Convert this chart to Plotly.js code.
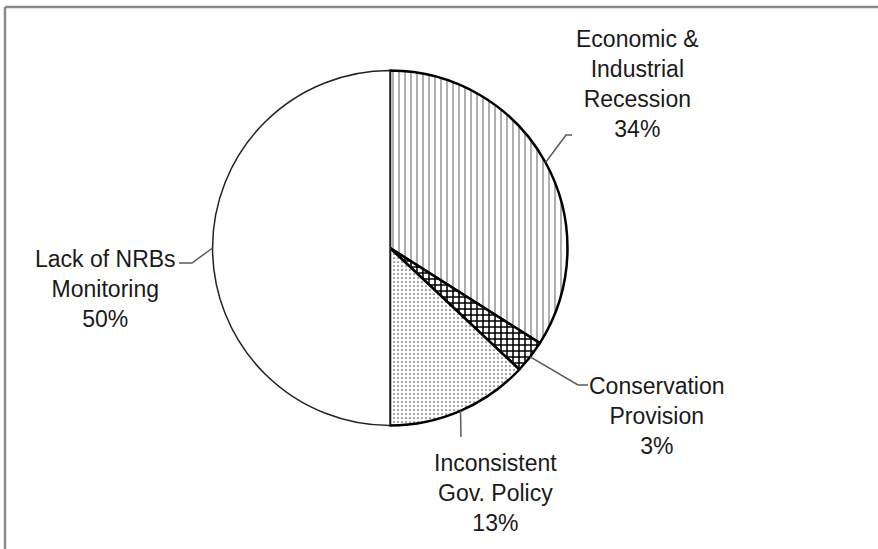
<!DOCTYPE html>
<html>
<head>
<meta charset="utf-8">
<script src="https://cdn.plot.ly/plotly-3.0.1.min.js"></script>
<style>
  html, body { margin: 0; padding: 0; background: #fff; }
  #chart { width: 878px; height: 549px; }
</style>
</head>
<body>
<div id="chart"></div>
<script>
// ---- data ----
const categories = ["Economic &<br>Industrial<br>Recession", "Conservation<br>Provision", "Inconsistent<br>Gov. Policy", "Lack of NRBs<br>Monitoring"];
const values = [34, 3, 13, 50];
const pctLabels = ["34%", "3%", "13%", "50%"];

// ---- layout constants (pixels) ----
const W = 878, H = 549;
const CX = 390, CY = 248, R = 177.5;
const px = x => x / W;
const py = y => 1 - y / H;

// label text centres and leader elbow points (pixels)
const labelPos = [
  {x: 637, y: 84, elbow: [[572, 135], [566, 135]]},
  {x: 657, y: 416, elbow: [[588, 385], [578, 385]]},
  {x: 495, y: 493, elbow: [[461, 437]]},
  {x: 105, y: 289, elbow: [[179, 263], [192, 263]]}
];

const trace = {
  type: "pie",
  values: values,
  labels: categories,
  sort: false,
  direction: "clockwise",
  rotation: 0,
  textinfo: "none",
  hoverinfo: "label+percent",
  showlegend: false,
  domain: {x: [px(CX - R), px(CX + R)], y: [py(CY + R), py(CY - R)]},
  marker: {
    colors: ["#ffffff", "#ffffff", "#ffffff", "#ffffff"],
    line: {color: ["#000000", "#000000", "#000000", "#222222"], width: [2.5, 2.5, 2.5, 1.5]},
    pattern: {
      shape: ["|", "+", ".", ""],
      fgcolor: ["#7a7a7a", "#000000", "#555555", "#000000"],
      bgcolor: "#ffffff",
      size: [6, 6, 4, 8],
      solidity: [0.2, 0.45, 0.15, 0.1],
      fillmode: "replace"
    }
  }
};

// leader lines: from slice mid-angle on the rim to the label elbow
const total = values.reduce((a, b) => a + b, 0);
const shapes = [];
let cum = 0;
values.forEach((v, i) => {
  const a = (cum + v / 2) / total * 2 * Math.PI;
  cum += v;
  const ax = CX + R * Math.sin(a), ay = CY - R * Math.cos(a);
  const pts = [[ax, ay]].concat(labelPos[i].elbow.slice().reverse());
  let path = "M" + pts.map(p => px(p[0]).toFixed(5) + "," + py(p[1]).toFixed(5)).join(" L");
  shapes.push({type: "path", xref: "paper", yref: "paper", path: path,
    line: {color: "#5a5a5a", width: 1.5}});
});
// frame
shapes.push({type: "line", xref: "paper", yref: "paper", x0: px(5), x1: 1.05, y0: py(7), y1: py(7), line: {color: "#8a8a8a", width: 2.5}});
shapes.push({type: "line", xref: "paper", yref: "paper", x0: px(5), x1: px(5), y0: -0.05, y1: py(7), line: {color: "#8a8a8a", width: 2.5}});

const annotations = categories.map((c, i) => ({
  xref: "paper", yref: "paper",
  x: px(labelPos[i].x), y: py(labelPos[i].y),
  xanchor: "center", yanchor: "middle",
  text: c + "<br>" + pctLabels[i],
  showarrow: false,
  align: "center",
  font: {family: "Liberation Sans, Arial, sans-serif", size: 23, color: "#1a1a1a"}
}));

const layout = {
  width: W, height: H,
  margin: {l: 0, r: 0, t: 0, b: 0},
  paper_bgcolor: "#ffffff",
  plot_bgcolor: "#ffffff",
  shapes: shapes,
  annotations: annotations
};

Plotly.newPlot("chart", [trace], layout, {displayModeBar: false, staticPlot: true});
</script>
</body>
</html>
